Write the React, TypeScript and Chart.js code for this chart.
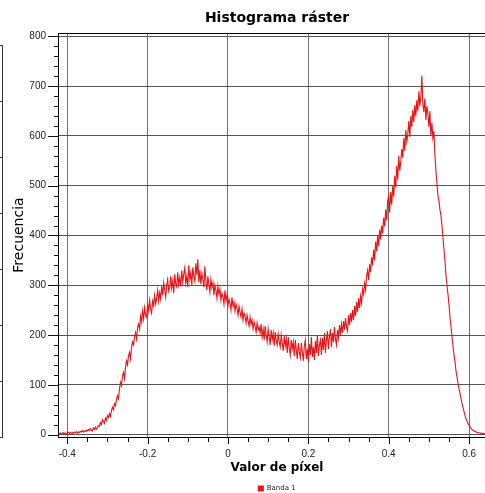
import { useEffect, useRef } from 'react';
import { Chart, registerables } from 'chart.js';

Chart.register(...registerables);

// Histogram bins (bin centre = binStart + i * binWidth)
const binStart = -0.42;
const binWidth = 0.0025;
const frequencies = [
  2, 3, 1, 2, 4, 2, 3, 1, 3, 5, 2, 4, 3, 2, 5, 3, 4, 6, 3, 5,
  4, 6, 5, 8, 5, 7, 6, 9, 7, 10, 8, 12, 9, 7, 13, 10, 15, 11, 14, 18,
  16, 24, 20, 30, 26, 22, 33, 28, 38, 34, 42, 36, 48, 55, 50, 62, 58, 70, 78, 72,
  92, 105, 98, 118, 125, 112, 135, 148, 140, 158, 165, 152, 175, 186, 180, 196, 205, 192, 215, 222,
  212, 238, 226, 248, 232, 255, 241, 236, 262, 248, 270, 252, 244, 268, 259, 280, 262, 274, 290, 268,
  285, 272, 298, 280, 305, 290, 276, 300, 312, 288, 296, 318, 294, 309, 284, 322, 303, 297, 326, 301,
  315, 298, 330, 306, 322, 335, 304, 318, 296, 340, 312, 325, 300, 336, 318, 308, 344, 320, 352, 306,
  330, 302, 324, 312, 296, 338, 308, 290, 318, 301, 286, 312, 296, 305, 280, 300, 290, 274, 298, 282,
  292, 270, 284, 276, 262, 290, 268, 280, 258, 272, 264, 250, 276, 258, 266, 248, 262, 254, 240, 258,
  246, 236, 252, 230, 244, 238, 224, 240, 228, 218, 236, 222, 230, 212, 226, 218, 206, 224, 210, 216,
  204, 222, 196, 212, 190, 218, 200, 186, 212, 196, 180, 210, 190, 204, 178, 206, 188, 180, 202, 186,
  176, 200, 184, 168, 198, 178, 192, 164, 196, 174, 160, 190, 172, 186, 158, 190, 170, 152, 184, 166,
  154, 184, 166, 148, 178, 190, 152, 172, 146, 182, 160, 196, 156, 176, 150, 188, 164, 200, 158, 180,
  190, 160, 194, 170, 204, 164, 190, 208, 172, 196, 212, 176, 204, 186, 216, 192, 180, 210, 194, 220,
  200, 222, 204, 228, 210, 234, 216, 208, 240, 220, 244, 226, 250, 230, 258, 238, 266, 246, 274, 254,
  278, 264, 292, 282, 304, 290, 318, 330, 310, 342, 326, 356, 340, 372, 350, 388, 368, 400, 378, 412,
  392, 420, 404, 436, 418, 452, 430, 470, 480, 446, 488, 462, 500, 478, 520, 496, 540, 512, 560, 530,
  548, 574, 556, 596, 570, 612, 588, 604, 630, 598, 640, 618, 652, 628, 662, 640, 672, 650, 690, 660,
  680, 721, 664, 648, 676, 632, 660, 644, 618, 650, 600, 626, 596, 610, 560, 530, 505, 480, 470, 452,
  440, 420, 396, 372, 350, 320, 300, 282, 262, 236, 216, 196, 178, 160, 146, 128, 116, 102, 92, 82,
  72, 62, 54, 46, 38, 32, 26, 22, 18, 15, 12, 10, 8, 7, 6, 5, 4, 4, 3, 3,
  2, 3, 2, 2, 1,
];

const seriesLabel = 'Banda 1';
const chartTitle = 'Histograma ráster';
const xTitle = 'Valor de píxel';
const yTitle = 'Frecuencia';

const xMin = -0.423;
const xMax = 0.667;
const yMin = -5;
const yMax = 807;

const xMajorTicks = [-0.4, -0.2, 0, 0.2, 0.4, 0.6];
const xTickLabels = ['-0.4', '-0.2', '0', '0.2', '0.4', '0.6'];
const xAllTicks = [
  -0.4, -0.35, -0.3, -0.25, -0.2, -0.15, -0.1, -0.05, 0, 0.05, 0.1, 0.15,
  0.2, 0.25, 0.3, 0.35, 0.4, 0.45, 0.5, 0.55, 0.6, 0.65,
];
const yMajorTicks = [0, 100, 200, 300, 400, 500, 600, 700, 800];
const yAllTicks = [
  0, 20, 40, 60, 80, 100, 120, 140, 160, 180, 200, 220, 240, 260, 280, 300,
  320, 340, 360, 380, 400, 420, 440, 460, 480, 500, 520, 540, 560, 580, 600,
  620, 640, 660, 680, 700, 720, 740, 760, 780, 800,
];

const near = (a: number, b: number) => Math.abs(a - b) < 1e-9;
const isIn = (list: number[], v: number) => list.some((m) => near(m, v));

const framePlugin = {
  id: 'framePlugin',
  afterDraw(chart: any) {
    const { ctx, chartArea: a, scales } = chart;
    const xs = scales.x;
    const ys = scales.y;
    ctx.save();
    ctx.strokeStyle = '#111';
    ctx.lineWidth = 1;
    yAllTicks.forEach((v) => {
      const py = Math.round(ys.getPixelForValue(v)) + 0.5;
      const len = isIn(yMajorTicks, v) ? 10 : 4;
      ctx.beginPath();
      ctx.moveTo(a.left - len, py);
      ctx.lineTo(a.left, py);
      ctx.stroke();
    });
    xAllTicks.forEach((v) => {
      const px = Math.round(xs.getPixelForValue(v)) + 0.5;
      const len = isIn(xMajorTicks, v) ? 7 : 5;
      ctx.beginPath();
      ctx.moveTo(px, a.bottom);
      ctx.lineTo(px, a.bottom + len);
      ctx.stroke();
    });
    ctx.strokeStyle = '#000';
    ctx.strokeRect(
      Math.round(a.left) + 0.5,
      Math.round(a.top) + 0.5,
      Math.round(a.right - a.left),
      Math.round(a.bottom - a.top)
    );
    // partial neighbouring panel at the far left edge
    ctx.strokeStyle = '#333';
    ctx.beginPath();
    ctx.moveTo(2.5, 45);
    ctx.lineTo(2.5, 438);
    ctx.moveTo(0, 45.5);
    ctx.lineTo(3, 45.5);
    for (let i = 1; i <= 7; i++) {
      const py = Math.round(45 + i * 56) + 0.5;
      ctx.moveTo(0, py);
      ctx.lineTo(2.5, py);
    }
    ctx.stroke();
    ctx.restore();
  },
};

export default function App() {
  const canvasRef = useRef<HTMLCanvasElement | null>(null);

  useEffect(() => {
    const canvas = canvasRef.current;
    if (!canvas) return;
    const points = frequencies.map((f, i) => ({ x: binStart + i * binWidth, y: f }));
    const chart = new Chart(canvas, {
      type: 'line',
      data: {
        datasets: [
          {
            label: seriesLabel,
            data: points,
            borderColor: 'rgb(236, 18, 22)',
            backgroundColor: 'rgb(236, 18, 22)',
            borderWidth: 1.1,
            pointRadius: 0,
            tension: 0,
            fill: false,
          },
        ],
      },
      options: {
        animation: false,
        responsive: false,
        events: [],
        layout: { padding: 0 },
        plugins: {
          title: {
            display: true,
            text: chartTitle,
            color: '#000',
            font: { family: 'DejaVu Sans', size: 14, weight: 'bold' },
            padding: { top: 10, bottom: 6.2 },
          },
          legend: {
            display: true,
            position: 'bottom',
            maxHeight: 12,
            labels: {
              boxWidth: 5,
              boxHeight: 5,
              padding: 4,
              color: '#222',
              font: { family: 'DejaVu Sans', size: 7 },
            },
          },
          tooltip: { enabled: false },
        },
        scales: {
          x: {
            type: 'linear',
            min: xMin,
            max: xMax,
            afterBuildTicks: (axis: any) => {
              axis.ticks = xAllTicks.map((v) => ({ value: v }));
            },
            afterFit: (axis: any) => {
              axis.height = 44;
            },
            grid: {
              drawTicks: false,
              color: (c: any) => (isIn(xMajorTicks, c.tick.value) ? '#707070' : 'rgba(0,0,0,0)'),
              lineWidth: 1,
            },
            border: { display: false },
            ticks: {
              autoSkip: false,
              maxRotation: 0,
              padding: 11,
              color: '#222',
              font: { family: 'Liberation Sans', size: 10 },
              callback: (value: any) => {
                const idx = xMajorTicks.findIndex((m) => near(m, Number(value)));
                return idx >= 0 ? xTickLabels[idx] : '';
              },
            },
            title: {
              display: true,
              text: xTitle,
              color: '#000',
              font: { family: 'DejaVu Sans', size: 12, weight: 'bold' },
              padding: { top: 0, bottom: 6 },
            },
          },
          y: {
            type: 'linear',
            position: 'left',
            min: yMin,
            max: yMax,
            afterBuildTicks: (axis: any) => {
              axis.ticks = yAllTicks.map((v) => ({ value: v }));
            },
            afterFit: (axis: any) => {
              axis.width = 58;
            },
            grid: {
              drawTicks: false,
              color: (c: any) => (isIn(yMajorTicks, c.tick.value) ? '#555555' : 'rgba(0,0,0,0)'),
              lineWidth: 1,
            },
            border: { display: false },
            ticks: {
              autoSkip: false,
              padding: 12,
              color: '#222',
              font: { family: 'Liberation Sans', size: 10 },
              callback: (value: any) => (isIn(yMajorTicks, Number(value)) ? String(value) : ''),
            },
            title: {
              display: true,
              text: yTitle,
              color: '#000',
              font: { family: 'DejaVu Sans', size: 14 },
              padding: { top: 11, bottom: 0 },
            },
          },
          yRight: {
            type: 'linear',
            position: 'right',
            display: true,
            grid: { display: false, drawTicks: false },
            border: { display: false },
            ticks: { display: false },
            afterFit: (axis: any) => {
              axis.width = 58;
            },
          },
        },
      },
      plugins: [framePlugin],
    } as any);
    return () => chart.destroy();
  }, []);

  return (
    <div
      style={{
        position: 'absolute',
        left: 0,
        top: 0,
        width: 485,
        height: 493,
        overflow: 'hidden',
        background: '#fff',
      }}
    >
      <canvas ref={canvasRef} width={554} height={493} style={{ display: 'block' }} />
    </div>
  );
}
